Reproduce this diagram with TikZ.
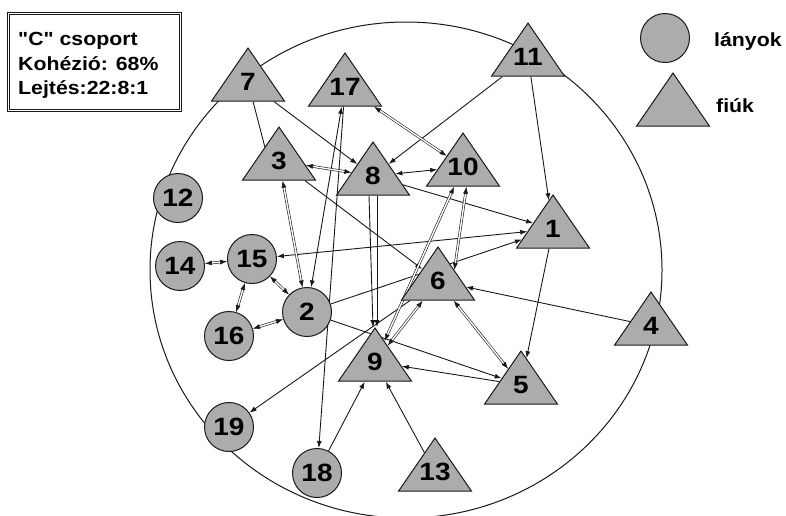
\documentclass[tikz,border=0pt]{standalone}
\usepackage{fontspec}
\setmainfont{Liberation Sans}[FakeStretch=1.12]
\newfontfamily\legf{Liberation Sans}[FakeStretch=1.12]
\usetikzlibrary{shapes.geometric,arrows.meta,calc}
\pgfdeclarelayer{bg}
\pgfsetlayers{bg,main}
\definecolor{nodegray}{RGB}{172,172,172}
\definecolor{ink}{RGB}{25,25,25}
\tikzset{
 tri/.style={isosceles triangle, isosceles triangle apex angle=69, shape border rotate=90, shape border uses incircle, draw=ink, fill=nodegray, line width=1pt, inner sep=13.6pt},
 girl/.style={circle, draw=ink, fill=nodegray, line width=1pt, minimum size=49pt, inner sep=0pt, font=\legf\fontsize{25}{25}\selectfont\bfseries},
 num/.style={font=\legf\fontsize{25}{25}\selectfont\bfseries, inner sep=0pt},
 leg/.style={font=\legf\fontsize{19}{19}\selectfont\bfseries, inner sep=0pt, anchor=base west},
 ln/.style={draw=ink, line width=0.9pt},
 ar/.style={draw=ink, line width=0.9pt, -{Latex[length=7pt,width=5pt]}},
 mut/.style={draw=ink, line width=0.6pt, double=white, double distance=1.4pt, {Latex[length=7pt,width=5pt]}-{Latex[length=7pt,width=5pt]}},
 bi/.style={draw=ink, line width=0.9pt, {Latex[length=7pt,width=5pt]}-{Latex[length=7pt,width=5pt]}},
}
\begin{document}
\begin{tikzpicture}[x=1pt,y=-1pt]
\useasboundingbox (0,0) rectangle (786,515);
% boys
\foreach \n/\x/\y in {7/248/82, 17/345/87, 11/528/57, 3/279/161, 8/373/176, 10/463/167, 1/553/229, 6/438/281, 9/375/362, 5/521/385, 4/651/326, 13/435/472}{
  \node[tri] (n\n) at (\x,\y) {};
  \node[num] (t\n) at (n\n.center) {\n};
}
% girls
\foreach \n/\x/\y in {12/178/198, 14/180/266, 15/252/259, 2/307/312, 16/229/336, 19/229/427, 18/317/473}{
  \node[girl] (n\n) at (\x,\y) {\n};
}
% legend
\node[draw=ink, double, double distance=1pt, line width=0.8pt, anchor=north west, minimum width=172pt, minimum height=97pt, inner sep=0pt] (box) at (8,13) {};
\node[leg] (b1) at (18,45) {"C" csoport};
\node[leg] (b2) at (18,70) {Kohézió: 68\%};
\node[leg] (b3) at (18,94) {Lejtés:22:8:1};
\node[girl] (lg) at (665,38) {};
\node[tri] (lb) at (673,107) {};
\node[leg] (lt1) at (714,46) {lányok};
\node[leg] (lt2) at (716,112) {fiúk};
\begin{pgfonlayer}{bg}
\draw[ink, line width=1pt] (406,270) ellipse [x radius=256, y radius=248];
% single choices
\draw[ar] (n7) -- (n8);
\draw[ln] (n7) -- (n3.135);
\draw[ar] (n11) -- (n8);
\draw[ar] (n11) -- (n1);
\draw[ar] (n1) -- (n5);
\draw[ar] (n4) -- (n6);
\draw[ar] (n8) -- (n1);
\draw[ar] (n3) -- (n6);
\draw[ar] (n17) -- (n18);
\draw[ar] (n6) -- (n19);
\draw[ar] (n13) -- (n9);
\draw[ar] (n18) -- (n9);
\draw[ar] (n2) -- (n1);
\draw[ar] (n2) -- (n5);
\draw[ar] (n5) -- (n9);
\draw[ar] ([xshift=-4pt]n8.south) -- ([xshift=-2pt]n9.apex);
\draw[ar] ([xshift=4pt]n8.south) -- ([xshift=2pt]n9.apex);
% mutual choices
\draw[bi] (n8) -- (n10);
\draw[bi] (n1) -- (n15);
\draw[bi] (n2) -- (n17);
\draw[mut] (n3) -- (n8);
\draw[mut] (n17) -- (n10);
\draw[mut] (n10.-80) -- (n6.34);
\draw[mut] (n6) -- (n9);
\draw[mut] (n6) -- (n5);
\draw[mut] (n9) -- (n10);
\draw[mut] (n3) -- (n2);
\draw[mut] (n14) -- (n15);
\draw[mut] (n15) -- (n16);
\draw[mut] (n15) -- (n2);
\draw[mut] (n16) -- (n2);
\end{pgfonlayer}
\end{tikzpicture}
\end{document}
